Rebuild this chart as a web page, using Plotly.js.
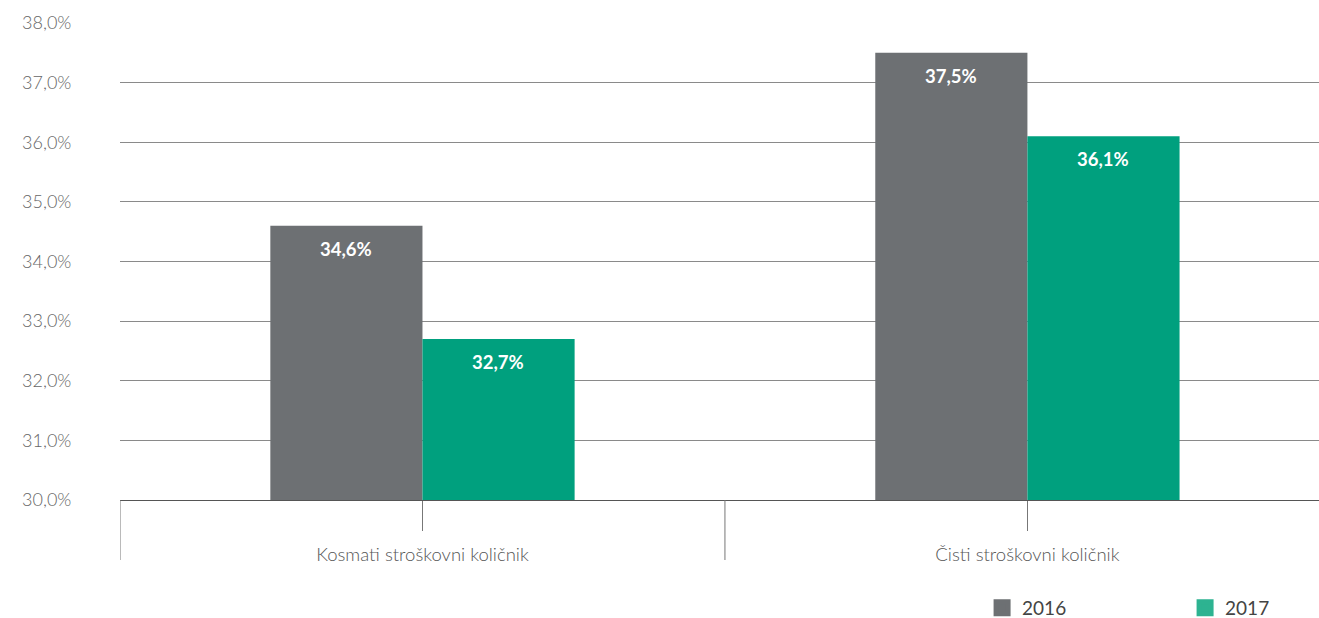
<!DOCTYPE html>
<html><head><meta charset="utf-8">
<script src="https://cdn.plot.ly/plotly-3.0.1.min.js"></script>
<style>html,body{margin:0;padding:0;background:#fff}#c{width:1319px;height:618px}</style>
</head><body><div id="c"></div>
<script>
const categories = ["Kosmati stroškovni količnik", "Čisti stroškovni količnik"];
const seriesNames = ["2016", "2017"];
const values2016 = [34.6, 37.5];
const values2017 = [32.7, 36.1];
const yTickVals = [30, 31, 32, 33, 34, 35, 36, 37, 38];
const yTickText = yTickVals.map(v => v.toFixed(1).replace(".", ",") + "%");

const colors = ["#6d7073", "#00a07e"];
const legendColors = ["#6d7073", "#2db391"];
const allValues = [values2016, values2017];
const offsets = [-76, 76];

const traces = allValues.map((vals, i) => ({
  type: "bar", name: seriesNames[i], x: categories, y: vals,
  marker: {color: colors[i]}, hoverinfo: "skip", showlegend: false
}));
// legend-only entries on a hidden overlay axis
seriesNames.forEach((n, i) => {
  traces.push({
    type: "bar", name: n, x: [categories[0]], y: [null], xaxis: "x2", yaxis: "y2",
    marker: {color: legendColors[i], line: {color: legendColors[i], width: 5}},
    hoverinfo: "skip", showlegend: true
  });
});

const annotations = [];
allValues.forEach((vals, i) => {
  vals.forEach((v, j) => {
    annotations.push({
      x: categories[j], y: v, xref: "x", yref: "y",
      text: v.toFixed(1).replace(".", ",") + "%",
      showarrow: false, xshift: offsets[i], yshift: -23,
      font: {family: "Lato", size: 18.5, color: "#ffffff", weight: 700}
    });
  });
});

const shapes = [-0.5, 0.5].map(xv => ({
  type: "line", xref: "x", yref: "paper", x0: xv, x1: xv, y0: 0, y1: -60/477,
  line: {color: "#777", width: 1}
}));

const layout = {
  width: 1319, height: 618,
  margin: {l: 120, r: 0, t: 23, b: 118, autoexpand: false},
  paper_bgcolor: "#fff", plot_bgcolor: "#fff",
  barmode: "group", bargap: 0.497, bargroupgap: 0,
  font: {family: "Lato", color: "#555"},
  xaxis: {
    type: "category", range: [-0.5, 1.482],
    showline: true, linecolor: "#555", linewidth: 1,
    ticks: "outside", ticklen: 30, tickcolor: "#777", ticklabelstandoff: 8,
    tickfont: {family: "Lato", size: 18.5, color: "#555", weight: 300},
    showgrid: false, zeroline: false, fixedrange: true
  },
  yaxis: {
    range: [30, 38], tickmode: "array", tickvals: yTickVals, ticktext: yTickText,
    showgrid: true, gridcolor: "#8a8a8a", gridwidth: 1,
    zeroline: false, showline: false,
    ticks: "outside", ticklen: 44, tickcolor: "rgba(0,0,0,0)",
    tickfont: {family: "Lato", size: 18, color: "#666", weight: 300},
    fixedrange: true
  },
  xaxis2: {type: "category", overlaying: "x", visible: false, range: [-0.5, 1.482]},
  yaxis2: {overlaying: "y", visible: false, range: [30, 38]},
  showlegend: true,
  legend: {
    orientation: "h", x: 0.719, xanchor: "left", y: -(608-500)/477, yanchor: "middle",
    entrywidth: 158, entrywidthmode: "pixels",
    font: {family: "Lato", size: 19, color: "#444", weight: 400}
  },
  annotations: annotations,
  shapes: shapes
};

Plotly.newPlot("c", traces, layout, {displayModeBar: false, staticPlot: true});
</script></body></html>
